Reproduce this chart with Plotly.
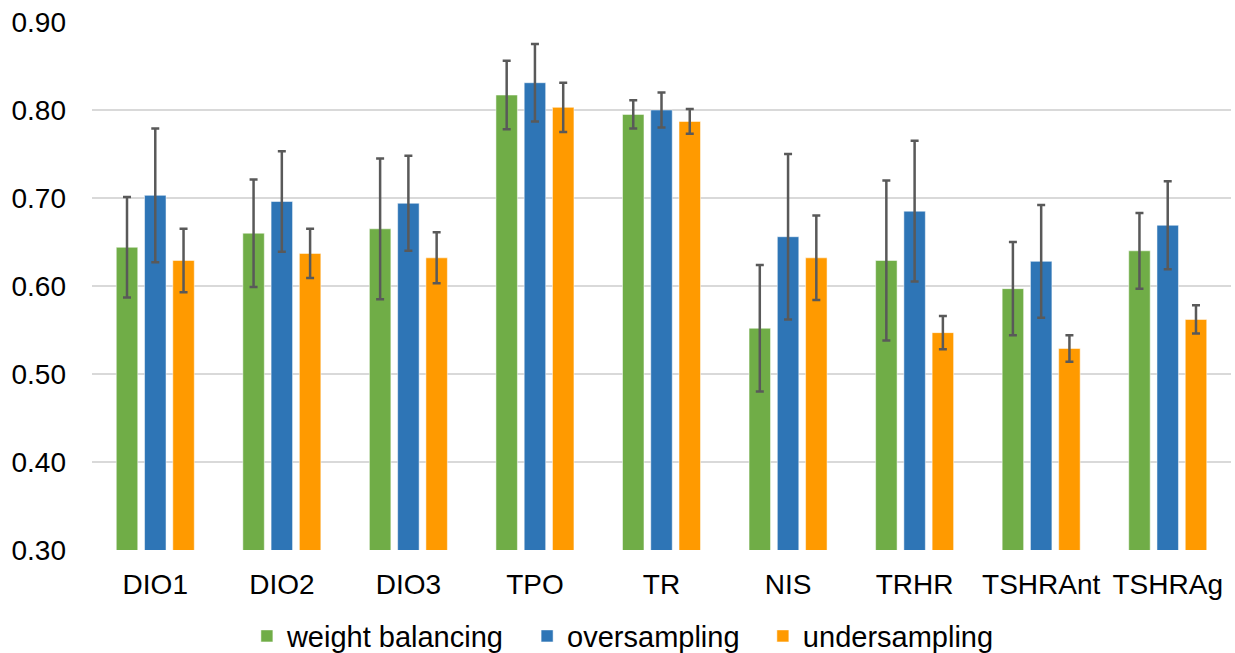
import plotly.graph_objects as go

categories = ["DIO1", "DIO2", "DIO3", "TPO", "TR", "NIS", "TRHR", "TSHRAnt", "TSHRAg"]

weight_balancing = [0.644, 0.660, 0.665, 0.817, 0.795, 0.552, 0.629, 0.597, 0.640]
weight_balancing_err = [0.057, 0.061, 0.080, 0.039, 0.016, 0.072, 0.091, 0.053, 0.043]

oversampling = [0.703, 0.696, 0.694, 0.831, 0.800, 0.656, 0.685, 0.628, 0.669]
oversampling_err = [0.076, 0.057, 0.054, 0.044, 0.020, 0.094, 0.080, 0.064, 0.050]

undersampling = [0.629, 0.637, 0.632, 0.803, 0.787, 0.632, 0.547, 0.529, 0.562]
undersampling_err = [0.036, 0.028, 0.029, 0.028, 0.014, 0.048, 0.019, 0.015, 0.016]

y_tick_values = [0.30, 0.40, 0.50, 0.60, 0.70, 0.80, 0.90]
y_tick_labels = ["0.30", "0.40", "0.50", "0.60", "0.70", "0.80", "0.90"]

series = [
    ("weight balancing", weight_balancing, weight_balancing_err, "#70AD47", "legend", 0.136),
    ("oversampling", oversampling, oversampling_err, "#2E75B6", "legend2", 0.382),
    ("undersampling", undersampling, undersampling_err, "#FF9A00", "legend3", 0.589),
]

fig = go.Figure()
legend_layouts = {}
for name, vals, errs, color, leg, lx in series:
    fig.add_trace(go.Bar(
        name=name, x=categories, y=vals, legend=leg,
        marker=dict(color=color, line=dict(color="rgba(255,255,255,0.5)", width=1)),
        error_y=dict(type="data", array=errs, visible=True, color="#595959",
                     thickness=2.5, width=4),
    ))
    legend_layouts[leg] = dict(orientation="h", x=lx, xanchor="left", y=-0.163,
                               yanchor="middle", font=dict(size=29), itemwidth=30,
                               bgcolor="rgba(0,0,0,0)")

fig.update_layout(
    width=1235, height=653,
    margin=dict(l=92, r=4, t=22, b=103, autoexpand=False),
    paper_bgcolor="white", plot_bgcolor="white",
    barmode="group", bargap=0.33, bargroupgap=0.24,
    font=dict(family="Liberation Sans, Arial, sans-serif", size=28, color="#000000"),
    yaxis=dict(range=[0.30, 0.90], tickmode="array", tickvals=y_tick_values,
               ticktext=y_tick_labels,
               showgrid=True, gridcolor="#D9D9D9", gridwidth=1.5,
               zeroline=False, showline=False, ticks="", ticklen=0,
               ticklabelstandoff=25,
               tickfont=dict(size=28), automargin=False),
    xaxis=dict(showline=False, ticks="", tickfont=dict(size=28), automargin=False,
               ticklabelstandoff=15),
    showlegend=True,
    **legend_layouts,
)

fig.write_html("out.html", config={"displayModeBar": False},
               post_script="document.body.style.margin='0px';document.body.style.overflow='hidden';")
